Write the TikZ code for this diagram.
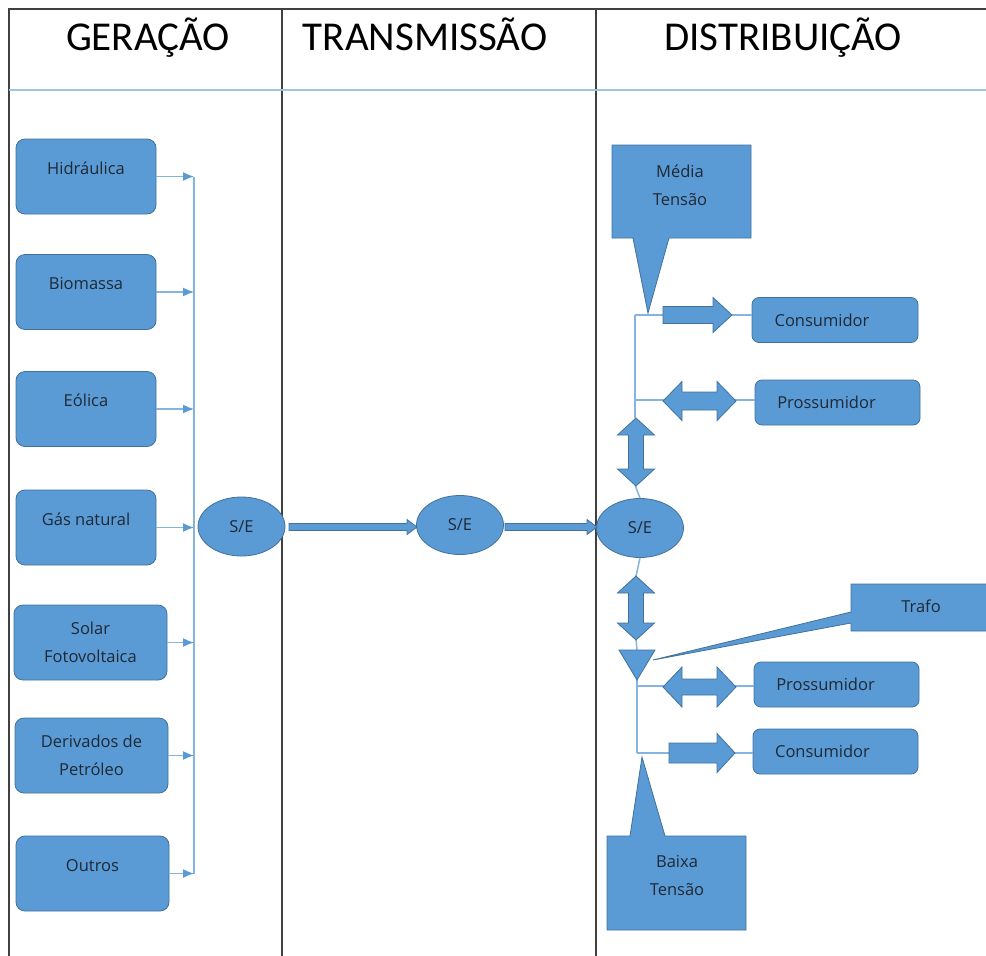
\documentclass[tikz,border=0pt]{standalone}
\usepackage{fontspec}
\setmainfont{Open Sans}
\newfontfamily\titlefont{Carlito}
\usetikzlibrary{shapes.geometric,arrows.meta}
\definecolor{sfill}{HTML}{5B9BD5}
\definecolor{sedge}{HTML}{41719C}
\definecolor{wire}{HTML}{86B4E0}
\definecolor{tipcol}{HTML}{5B9BD5}
\definecolor{txt}{HTML}{1E2935}
\definecolor{hline}{HTML}{9DC3E6}
\newcommand{\rblk}[6]{\draw[blk] (#1,#3-#4) -- (#2-#6,#3-#4) -- (#2-#6,#3-#5) -- (#2,#3) -- (#2-#6,#3+#5) -- (#2-#6,#3+#4) -- (#1,#3+#4) -- cycle;}
\newcommand{\hdblk}[6]{\draw[blk] (#1,#3) -- (#1+#6,#3-#5) -- (#1+#6,#3-#4) -- (#2-#6,#3-#4) -- (#2-#6,#3-#5) -- (#2,#3) -- (#2-#6,#3+#5) -- (#2-#6,#3+#4) -- (#1+#6,#3+#4) -- (#1+#6,#3+#5) -- cycle;}
\newcommand{\vdblk}[6]{\draw[blk] (#1,#2) -- (#1+#5,#2+#6) -- (#1+#4,#2+#6) -- (#1+#4,#3-#6) -- (#1+#5,#3-#6) -- (#1,#3) -- (#1-#5,#3-#6) -- (#1-#4,#3-#6) -- (#1-#4,#2+#6) -- (#1-#5,#2+#6) -- cycle;}
\begin{document}
\begin{tikzpicture}[x=1pt,y=-1pt,
  frameline/.style={draw=black!75, line width=1.2pt},
  bluerule/.style={draw=hline, line width=2pt},
  titletext/.style={font=\titlefont\fontsize{41}{41}\selectfont, text=black, anchor=base, inner sep=0pt},
  boxtext/.style={font=\fontsize{16.5}{28}\selectfont, text=txt},
  genbox/.style={boxtext, draw=sedge, fill=sfill, rounded corners=9pt, line width=0.8pt, inner sep=0pt},
  topbox/.style={genbox, minimum width=140pt, text height=35pt, text depth=40pt},
  twobox/.style={genbox, minimum width=153pt, minimum height=75pt, align=center},
  endbox/.style={genbox, minimum height=45pt, rounded corners=7pt},
  se/.style={ellipse, boxtext, draw=sedge, fill=sfill, line width=0.8pt, minimum width=87pt, minimum height=59pt, inner sep=0pt},
  feed/.style={draw=wire, line width=1.5pt, -{Latex[length=11pt,width=9pt,fill=tipcol,color=tipcol]}},
  wireline/.style={draw=wire, line width=1.5pt},
  blk/.style={draw=sedge, fill=sfill, line width=0.8pt, line join=miter},
  callout/.style={draw=sedge, fill=sfill, line width=0.8pt},
  calltext/.style={boxtext, align=center, inner sep=0pt}]
\useasboundingbox (0,0) rectangle (986,956);
% frame
\draw[frameline] (9,956) -- (9,9) -- (986,9);
\draw[frameline] (282,9) -- (282,956);
\draw[frameline] (596,9) -- (596,956);
\draw[bluerule] (9,90) -- (986,90);
% titles
\node[titletext] (tg) at (148,50) {GERAÇÃO};
\node[titletext] (tt) at (425,50) {TRANSMISSÃO};
\node[titletext] (td) at (783,50) {DISTRIBUIÇÃO};
% generation sources
\node[topbox] (hid) at (86,176.5) {Hidráulica};
\node[topbox] (bio) at (86,292) {Biomassa};
\node[topbox] (eol) at (86,409) {Eólica};
\node[topbox] (gas) at (86,527.5) {Gás natural};
\node[twobox] (sol) at (90.5,642.5) {Solar\\Fotovoltaica};
\node[twobox] (der) at (91.5,755.5) {Derivados de\\Petróleo};
\node[topbox, minimum width=153pt] (out) at (92.5,873.5) {Outros};
% bus
\coordinate (busT) at (194,176.5);
\coordinate (busB) at (194,873.5);
\draw[wireline] (busT) -- (busB);
\foreach \n in {hid,bio,eol,gas,sol,der,out}
  \draw[feed] (\n.east) -- (\n.east -| busT);
% substations
\node[se] (se1) at (241.5,526.5) {S/E};
\node[se] (se2) at (460,525) {S/E};
\node[se] (se3) at (640,528) {S/E};
\rblk{289}{417}{527}{3.5}{7.5}{10}
\rblk{505}{597}{527}{3.5}{7.5}{10}
% distribution: upper
\node[endbox, minimum width=166pt] (c1) at (835,320) {\hspace*{-26pt}Consumidor};
\node[endbox, minimum width=165pt] (p1) at (837.5,402.5) {\hspace*{-22pt}Prossumidor};
\coordinate (tU) at (635,315);
\coordinate (aUt) at (635,418);
\coordinate (aUb) at (635,485);
\draw[wireline] (tU) -- (aUt);
\draw[wireline] (aUb) -- (se3.north);
\draw[wireline] (tU) -- (tU -| c1.west);
\draw[wireline] (635,400) -- (p1.west |- 635,400);
\vdblk{636}{418}{486}{7.5}{18.5}{17}
\rblk{663}{732}{315}{8.5}{17.5}{19}
\hdblk{663}{736}{401}{9}{19.5}{19}
% media tensao callout
\draw[callout] (612,145) -- (751,145) -- (751,238) -- (669,238) -- (648,313) -- (633,238) -- (612,238) -- cycle;
\node[calltext] (mt) at (680,185) {Média\\Tensão};
% distribution: lower
\coordinate (aLt) at (636,576);
\coordinate (aLb) at (636,639);
\coordinate (trT) at (637,650);
\coordinate (trB) at (637,680);
\coordinate (tL) at (637,753);
\node[endbox, minimum width=165pt] (p2) at (836.5,684.5) {\hspace*{-22pt}Prossumidor};
\node[endbox, minimum width=165pt] (c2) at (835.5,751.5) {\hspace*{-26pt}Consumidor};
\draw[wireline] (se3.south) -- (aLt);
\draw[wireline] (aLb) -- (trT);
\draw[wireline] (trB) -- (tL);
\draw[wireline] (637,686) -- (p2.west |- 637,686);
\draw[wireline] (tL) -- (tL -| c2.west);
\vdblk{636}{576}{640}{7.5}{18.5}{17}
\draw[blk] (619,650) -- (655,650) -- (trB) -- cycle;
\hdblk{663}{736}{687}{8}{20}{19}
\rblk{669}{735}{753}{10}{19.5}{18}
% trafo callout
\draw[callout] (851,584) -- (992,584) -- (992,631) -- (851,631) -- (851,623) -- (653,660) -- (851,612) -- cycle;
\node[calltext] (tf) at (921,606) {Trafo};
% baixa tensao callout
\draw[callout] (607,836) -- (630,836) -- (642,757) -- (665,836) -- (746,836) -- (746,930) -- (607,930) -- cycle;
\node[calltext] (bt) at (677,876) {Baixa\\Tensão};
\end{tikzpicture}
\end{document}
